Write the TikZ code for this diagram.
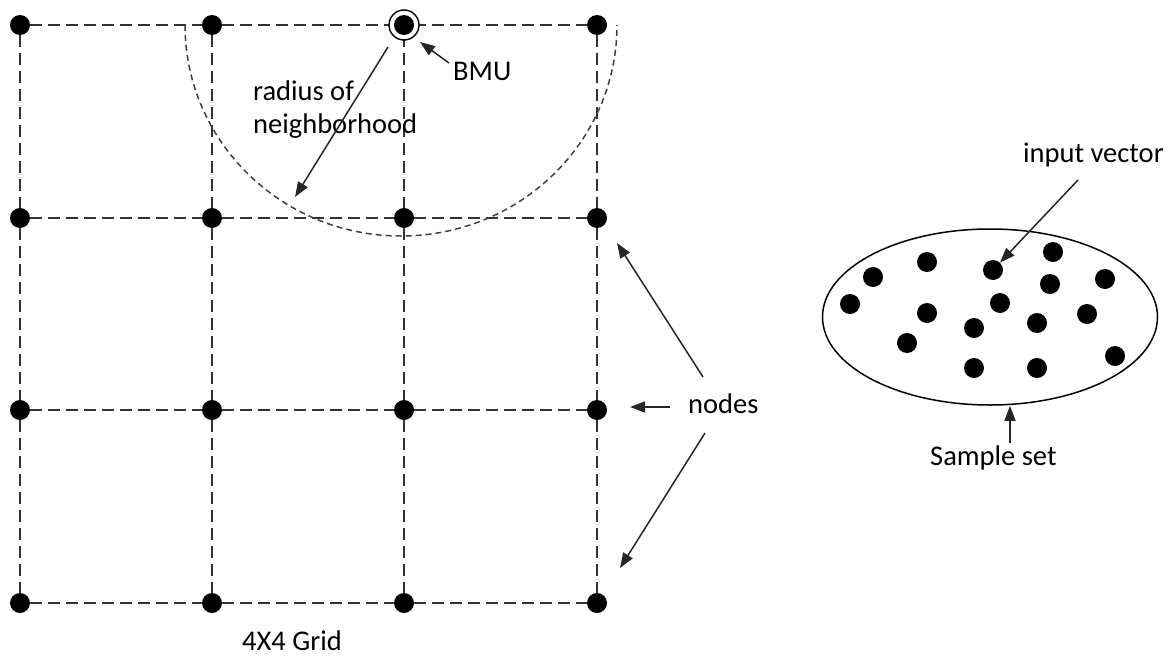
\documentclass[tikz,border=0pt]{standalone}
\usepackage{fontspec}
\setmainfont{Carlito}
\usetikzlibrary{arrows.meta,shapes.geometric}
\begin{document}
\begin{tikzpicture}[x=1pt,y=-1pt,
  dot/.style={circle,fill=black,inner sep=0pt,minimum size=20pt},
  gridline/.style={dash pattern=on 12pt off 6pt, line width=2pt, draw=black!80},
  arcline/.style={dash pattern=on 6pt off 4pt, line width=1.5pt, draw=black!75},
  arr/.style={-{Triangle[length=15pt,width=11pt]}, line width=1.5pt, draw=black!85},
  lbl/.style={font=\fontsize{28.5}{33}\selectfont, inner sep=0pt, anchor=base west}
]
\useasboundingbox (0,0) rectangle (1176,656);

% grid nodes
\foreach \c/\x in {1/20,2/212,3/404,4/597}
  \foreach \r/\y in {1/25,2/218,3/410,4/603}
    \node[dot] (g\r\c) at (\x,\y) {};

% grid lines
\foreach \r in {1,2,3,4}
  \foreach \a/\b in {1/2,2/3,3/4} {
    \draw[gridline] (g\r\a) -- (g\r\b);
    \draw[gridline] (g\a\r) -- (g\b\r);
  }

% neighborhood half circle
\draw[arcline] (185,25) arc[start angle=180, end angle=0, x radius=216, y radius=211];

% BMU
\node[circle,draw,fill=white,line width=1.4pt,minimum size=30pt,inner sep=0pt] (bmuring) at (g13) {};
\node[dot] (bmu) at (g13) {};

% labels
\node[lbl] (bmulbl) at (453,80) {BMU};
\node[lbl] (rad1) at (253,100) {radius of};
\node[lbl] (rad2) at (253,133) {neighborhood};
\node[lbl] (nodeslbl) at (688,413) {nodes};
\node[lbl] (inplbl) at (1023,162) {input vector};
\node[lbl] (samplbl) at (930,465) {Sample set};
\node[lbl] (gridlbl) at (242,650) {4X4 Grid};

% arrows
\coordinate (bmutail) at (449,63); \coordinate (bmutip) at (420,42);
\draw[arr] (bmutail) -- (bmutip);
\coordinate (radtail) at (388,47); \coordinate (radtip) at (295,197);
\draw[arr] (radtail) -- (radtip);
\coordinate (n1tail) at (703,377); \coordinate (n1tip) at (617,243);
\coordinate (n2tail) at (670,407); \coordinate (n2tip) at (630,407);
\coordinate (n3tail) at (705,433); \coordinate (n3tip) at (620,568);
\draw[arr] (n1tail) -- (n1tip);
\draw[arr] (n2tail) -- (n2tip);
\draw[arr] (n3tail) -- (n3tip);

% sample set
\node[draw,ellipse,line width=1.5pt,inner sep=0pt,minimum width=335pt,minimum height=176pt] (ell) at (990,317) {};
\foreach \i/\x/\y in {1/873/277,2/927/262,3/850/304,4/993/270,5/1053/252,6/1105/279,7/1050/284,8/927/313,9/1000/303,10/1087/314,11/1037/323,12/974/328,13/907/343,14/1115/356,15/974/368,16/1037/368}
  \node[dot] (s\i) at (\x,\y) {};
\coordinate (invtail) at (1078,180);
\draw[arr] (invtail) -- (s4);
\coordinate (samptail) at (1010,443);
\draw[arr] (samptail) -- (samptail |- ell.south);
\end{tikzpicture}
\end{document}
